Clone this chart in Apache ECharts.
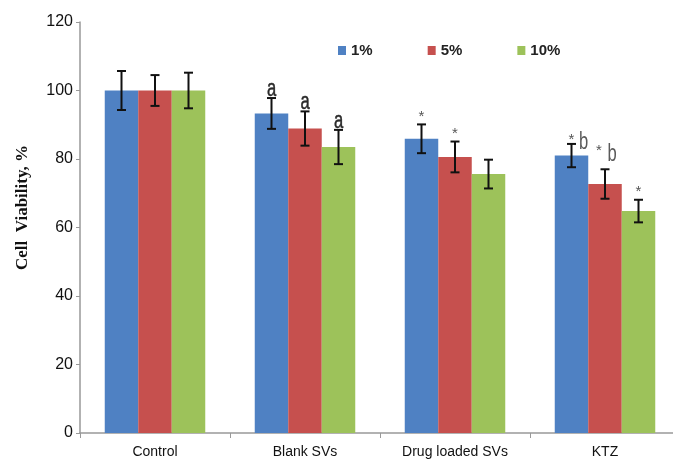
<!DOCTYPE html>
<html><head><meta charset="utf-8">
<script src="https://cdn.jsdelivr.net/npm/echarts@6/dist/echarts.min.js"></script>
<style>html,body{margin:0;padding:0;background:#fff}#c{width:673px;height:462px}</style>
</head><body><div id="c"></div>
<script>
var categories = ['Control', 'Blank SVs', 'Drug loaded SVs', 'KTZ'];
var seriesNames = ['1%', '5%', '10%'];
var v1 = [100, 93.3, 85.9, 81.0];
var v5 = [100, 88.9, 80.6, 72.7];
var v10 = [100, 83.5, 75.6, 64.8];
var e1 = [5.7, 4.5, 4.2, 3.4];
var e5 = [4.5, 5.0, 4.5, 4.3];
var e10 = [5.2, 5.0, 4.2, 3.3];
var a1 = ['', 'a', '*', '*b'];
var a5 = ['', 'a', '*', '* b'];
var a10 = ['', 'a', '', '*'];
var yTicks = [0, 20, 40, 60, 80, 100, 120];

var colors = ['#4F81C3', '#C6504E', '#9DC25A'];
var values = [v1, v5, v10];
var errs = [e1, e5, e10];
var annots = [a1, a5, a10];
var CAT_GAP = 0.33;

var chart = echarts.init(document.getElementById('c'));
var series = [];
values.forEach(function (vals, si) {
  series.push({
    name: seriesNames[si], type: 'bar', data: vals,
    itemStyle: { color: colors[si] },
    barGap: '0%', barCategoryGap: (CAT_GAP * 100) + '%',
    animation: false
  });
});
function letter(ch, x, y, fill, heavy) {
  return { type: 'text', x: x, y: y, scaleX: 0.72,
    style: { text: ch, x: 0, y: 0, align: 'center', verticalAlign: 'bottom',
      font: '23px "Liberation Sans", sans-serif', fill: fill,
      stroke: heavy ? fill : null, lineWidth: heavy ? 0.5 : 0 } };
}
function star(x, y) {
  return { type: 'text', x: x, y: y,
    style: { text: '*', x: 0, y: 0, align: 'center', verticalAlign: 'bottom',
      font: '15px "Liberation Sans", sans-serif', fill: '#555' } };
}
values.forEach(function (vals, si) {
  series.push({
    type: 'custom', silent: true, animation: false, z: 10,
    data: vals.map(function (v, i) { return [i, v, errs[si][i]]; }),
    renderItem: function (params, api) {
      var ci = api.value(0), v = api.value(1), e = api.value(2);
      var catW = api.size([1, 0])[0];
      var bw = catW * (1 - CAT_GAP) / 3;
      var pc = api.coord([ci, v]);
      var x = pc[0] + (si - 1) * bw;
      var yt = api.coord([ci, v + e])[1];
      var yb = api.coord([ci, v - e])[1];
      var cap = 4.5;
      var st = { stroke: '#111', lineWidth: 2 };
      var children = [
        { type: 'line', shape: { x1: x, y1: yt, x2: x, y2: yb }, style: st },
        { type: 'line', shape: { x1: x - cap, y1: yt, x2: x + cap, y2: yt }, style: st },
        { type: 'line', shape: { x1: x - cap, y1: yb, x2: x + cap, y2: yb }, style: st }
      ];
      var t = annots[si][ci];
      if (t === 'a') {
        children.push(letter('a', x, yt + 3, '#2a2a2a', true));
      } else if (t === '*') {
        children.push(star(x, yt));
      } else if (t) {
        var spaced = t.indexOf(' ') >= 0;
        children.push(star(x + (spaced ? -6 : 0), yt + (spaced ? -11 : 3)));
        children.push(letter(t.charAt(t.length - 1), x + (spaced ? 7 : 12), yt + (spaced ? -3 : 10), '#5a5a5a', false));
      }
      return { type: 'group', children: children };
    }
  });
});

chart.setOption({
  animation: false,
  backgroundColor: '#fff',
  textStyle: { fontFamily: '"Liberation Sans", Arial, sans-serif' },
  grid: { left: 80, width: 600, top: 22, bottom: 29, containLabel: false, outerBoundsMode: 'none' },
  legend: {
    data: seriesNames, top: 38, left: 333, itemGap: 55,
    itemWidth: 8, itemHeight: 9, icon: 'rect',
    textStyle: { fontSize: 15, fontWeight: 'bold', color: '#222' }
  },
  xAxis: {
    type: 'category', data: categories,
    axisLine: { lineStyle: { color: '#999', width: 1.5 } },
    axisTick: { show: true, length: 5, lineStyle: { color: '#999' } },
    axisLabel: { fontSize: 14, color: '#111', margin: 12 }
  },
  yAxis: {
    type: 'value', min: yTicks[0], max: yTicks[yTicks.length - 1], interval: 20,
    name: 'Cell  Viability, %', nameLocation: 'middle', nameGap: 49,
    nameTextStyle: { fontFamily: '"Liberation Serif", serif', fontWeight: 'bold', fontSize: 17, color: '#111', padding: [0, 0, 0, 40] },
    axisLine: { show: true, lineStyle: { color: '#999', width: 1.5 } },
    axisTick: { show: true, length: 4, lineStyle: { color: '#999' } },
    splitLine: { show: false },
    axisLabel: { fontSize: 16, color: '#111', margin: 7 }
  },
  series: series
});
</script></body></html>
